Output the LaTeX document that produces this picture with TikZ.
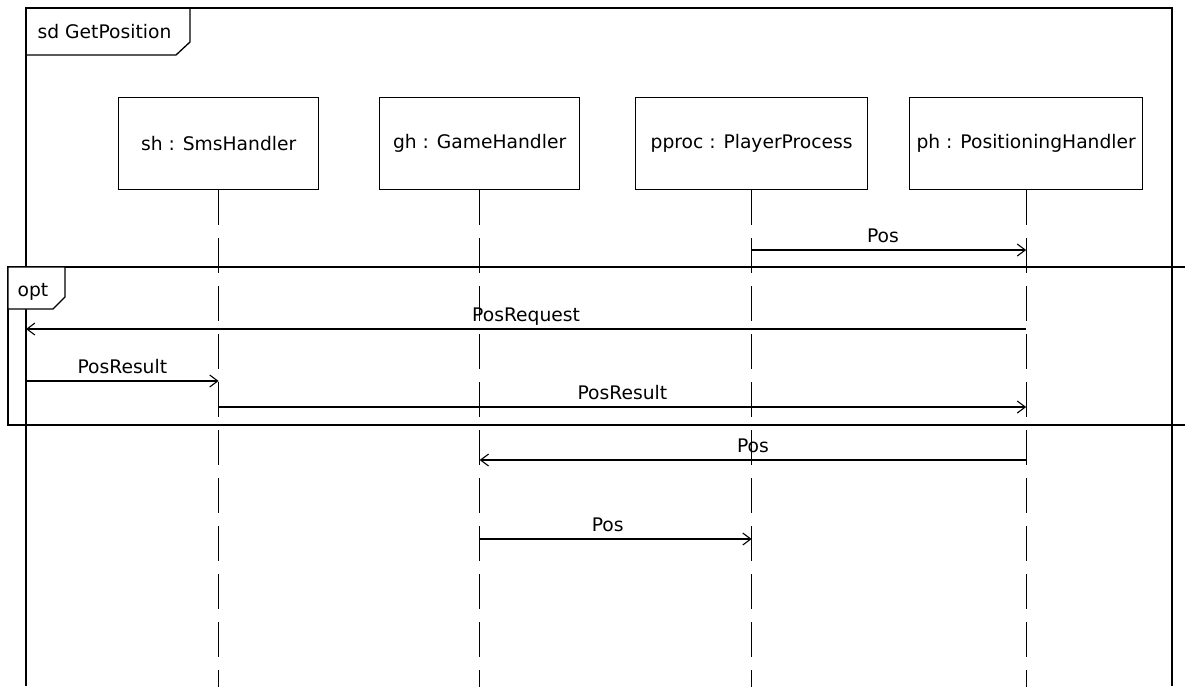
\documentclass[tikz,border=0pt]{standalone}
\usepackage{fontspec}
\setmainfont{DejaVu Sans}
\usetikzlibrary{arrows.meta}
\begin{document}
\begin{tikzpicture}[x=1pt, y=-1pt, line width=1.3pt,
  every node/.style={font=\fontsize{18.7}{22}\selectfont, inner sep=0pt},
  lifebox/.style={draw, minimum height=92pt, anchor=north west},
  lifeline/.style={dash pattern=on 35pt off 13pt},
  msg/.style={-{Straight Barb[length=8pt, width=12pt, line width=1.1pt]}},
  msglabel/.style={pos=0.5, anchor=base, yshift=8pt}]

% canvas
\fill[white] (0,0) rectangle (1185,686);
\useasboundingbox (0,0) rectangle (1185,686);

% interaction frame "sd GetPosition"
\draw (26,686) -- (26,8) -- (1172,8) -- (1172,686);
\draw (26,55) -- (176,55) -- (190,42) -- (190,8);
\node[anchor=base west] (sdlabel) at (37,38) {sd GetPosition};

% lifeline heads
\node[lifebox, minimum width=200pt] (sh) at (118,97) {sh : SmsHandler};
\node[lifebox, minimum width=200pt] (gh) at (379,97) {gh : GameHandler};
\node[lifebox, minimum width=232pt] (pp) at (635,97) {pproc : PlayerProcess};
\node[lifebox, minimum width=233pt] (ph) at (909,97) {ph : PositioningHandler};

% lifelines
\coordinate (bottom) at (0,690);
\foreach \l in {sh,gh,pp,ph}
  \draw[lifeline] (\l.south) -- (\l.south |- bottom);

% combined fragment "opt"
\draw (1190,267) -- (8,267) -- (8,425) -- (1190,425);
\filldraw[fill=white] (8,267) -- (8,309) -- (53,309) -- (65,297) -- (65,267) -- cycle;
\node[anchor=base west] (optlabel) at (17,296) {opt};

% message rows
\coordinate (gate) at (26,0);
\coordinate (r1) at (0,250);
\coordinate (r2) at (0,329);
\coordinate (r3) at (0,381);
\coordinate (r4) at (0,407);
\coordinate (r5) at (0,460);
\coordinate (r6) at (0,539);

% messages
\draw[msg] (pp.south |- r1) -- node[msglabel, xshift=-6pt] {Pos} (ph.south |- r1);
\draw[msg] (ph.south |- r2) -- node[msglabel] {PosRequest} (gate |- r2);
\draw[msg] (gate |- r3) -- node[msglabel] {PosResult} (sh.south |- r3);
\draw[msg] (sh.south |- r4) -- node[msglabel] {PosResult} (ph.south |- r4);
\draw[msg] (ph.south |- r5) -- node[msglabel] {Pos} (gh.south |- r5);
\draw[msg] (gh.south |- r6) -- node[msglabel, xshift=-8pt] {Pos} (pp.south |- r6);
\end{tikzpicture}
\end{document}
